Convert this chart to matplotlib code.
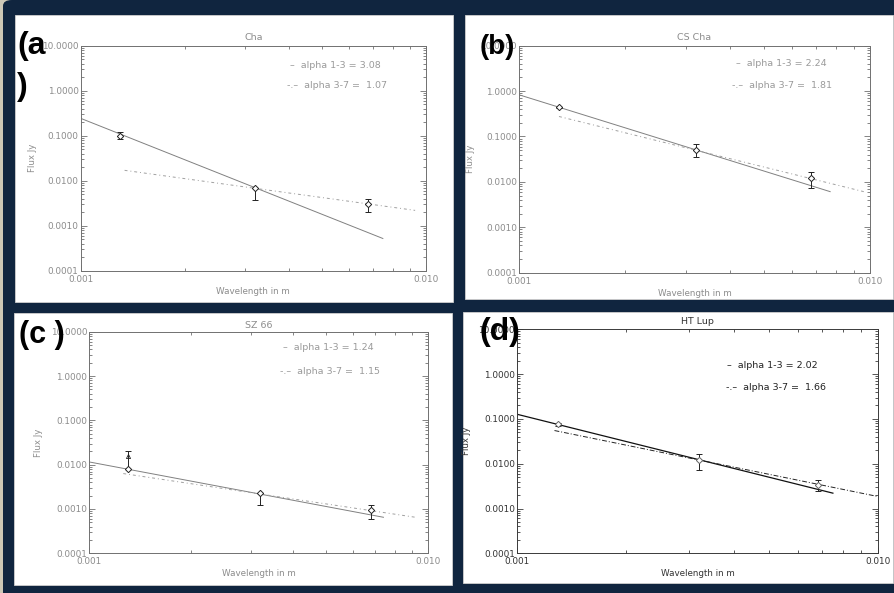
import matplotlib
matplotlib.use("Agg")
import matplotlib.pyplot as plt
from matplotlib.patches import Rectangle, FancyBboxPatch
from matplotlib.ticker import LogLocator, FixedLocator, FixedFormatter, NullFormatter

W, H = 895, 593

# ---------------- data ----------------
titles = ["Cha", "CS Cha", "SZ 66", "HT Lup"]
panel_tags = ["(a\n)", "(b)", "(c )", "(d)"]
alpha13 = ["3.08", "2.24", "1.24", "2.02"]
alpha37 = ["1.07", "1.81", "1.15", "1.66"]

wl = [0.0013, 0.0032, 0.0068]

a_flux = [0.100, 0.0068, 0.0031]
a_err_lo = [0.017, 0.0030, 0.0011]
a_err_hi = [0.020, 0.0, 0.0009]
a_fit13_x = [0.001, 0.0075]
a_fit13_y = [0.243, 0.00052]
a_fit37_x = [0.00134, 0.0093]
a_fit37_y = [0.0170, 0.00219]

b_flux = [0.436, 0.0508, 0.0120]
b_err_lo = [0.02, 0.015, 0.0045]
b_err_hi = [0.02, 0.018, 0.0043]
b_fit13_x = [0.001, 0.0077]
b_fit13_y = [0.83, 0.0061]
b_fit37_x = [0.0013, 0.0096]
b_fit37_y = [0.276, 0.0061]

c_flux = [0.0081, 0.0023, 0.00095]
c_err_lo = [0.0, 0.0011, 0.00035]
c_err_hi = [0.012, 0.0, 0.0003]
c_arrow_y = [0.0154]
c_fit13_x = [0.001, 0.0074]
c_fit13_y = [0.0115, 0.00065]
c_fit37_x = [0.00126, 0.0092]
c_fit37_y = [0.0063, 0.00065]

d_flux = [0.076, 0.0123, 0.0034]
d_err_lo = [0.006, 0.005, 0.001]
d_err_hi = [0.006, 0.0044, 0.001]
d_fit13_x = [0.001, 0.0075]
d_fit13_y = [0.127, 0.0022]
d_fit37_x = [0.00127, 0.010]
d_fit37_y = [0.055, 0.00185]

y_ticks = [0.0001, 0.001, 0.01, 0.1, 1.0, 10.0]
y_ticklabels = ["0.0001", "0.0010", "0.0100", "0.1000", "1.0000", "10.0000"]
x_ticks = [0.001, 0.010]
x_ticklabels = ["0.001", "0.010"]

# ---------------- layout ----------------
def rect(l, t, r, b):
    return [l / W, 1 - b / H, (r - l) / W, (b - t) / H]

def fpt(x, y):
    return (x / W, 1 - y / H)

fig = plt.figure(figsize=(W / 100, H / 100), dpi=100, facecolor="#cdc8b6")
navy = "#10253f"
fig.add_artist(FancyBboxPatch(fpt(3, 600), (W + 10) / W, (600) / H,
                              boxstyle="round,pad=0,rounding_size=0.01",
                              transform=fig.transFigure, facecolor=navy,
                              edgecolor="none", zorder=-5))

panel_boxes = [(15, 15, 453, 302), (465, 15, 893, 299),
               (14, 313, 452, 585), (463, 312, 893, 583)]
for (l, t, r, b) in panel_boxes:
    x0, y0, w, h = rect(l, t, r, b)
    fig.add_artist(Rectangle((x0, y0), w, h, transform=fig.transFigure,
                             facecolor="white", edgecolor="#d0d0d0", lw=0.6,
                             zorder=-4))

axes_boxes = [(80.7, 45.7, 426, 270.7), (519, 45.7, 870, 272.7),
              (89.3, 331.7, 427.7, 553.3), (517, 329.3, 878, 553.3)]

fluxes = [a_flux, b_flux, c_flux, d_flux]
errs_lo = [a_err_lo, b_err_lo, c_err_lo, d_err_lo]
errs_hi = [a_err_hi, b_err_hi, c_err_hi, d_err_hi]
fits13 = [(a_fit13_x, a_fit13_y), (b_fit13_x, b_fit13_y),
          (c_fit13_x, c_fit13_y), (d_fit13_x, d_fit13_y)]
fits37 = [(a_fit37_x, a_fit37_y), (b_fit37_x, b_fit37_y),
          (c_fit37_x, c_fit37_y), (d_fit37_x, d_fit37_y)]

legend_pos = [((290, 65), (287, 85)), ((736, 64), (732, 86)),
              ((283, 348), (280, 371)), ((727, 365), (726, 388))]
title_pos = [38, 38, 325, 322]
tag_pos = [(17, 31, 23, 1.5), (480, 34, 20, 1.35), (19, 320, 22, 1.35),
           (479, 317, 23, 1.35)]
ylabel_pads = [4, 4, 5.5, 5]

for i in range(4):
    faded = i < 3
    tc = "#8c8c8c" if faded else "#333333"
    sc = "#707070" if faded else "#3a3a3a"
    lc1 = "#808080" if faded else "#111111"
    lc2 = "#a0a0a0" if faded else "#222222"
    ax = fig.add_axes(rect(*axes_boxes[i]))
    ax.set_xscale("log")
    ax.set_yscale("log")
    ax.set_xlim(0.001, 0.010)
    ax.set_ylim(0.0001, 10.0)
    ax.patch.set_alpha(0)
    for s in ax.spines.values():
        s.set_color(sc)
        s.set_linewidth(0.7)

    # fits
    ax.plot(fits13[i][0], fits13[i][1], color=lc1, lw=0.7 if faded else 0.9,
            ls="-", zorder=2)
    ax.plot(fits37[i][0], fits37[i][1], color=lc2, lw=0.7,
            ls=(0, (5, 2, 1, 2)) if not faded else (0, (3, 3, 1, 3)), zorder=2)

    # data
    ax.errorbar(wl, fluxes[i], yerr=[errs_lo[i], errs_hi[i]], fmt="D",
                ms=3.2, mfc="white", mec="#222222" if i != 3 else "#666666",
                mew=0.7, ecolor="#222222", elinewidth=0.7, capsize=2.2,
                capthick=0.7, zorder=3)
    if i == 2:
        ax.plot([wl[0]], c_arrow_y, marker="^", ms=3, mfc="none",
                mec="#222222", mew=0.6, ls="none", zorder=3)

    ax.yaxis.set_major_locator(FixedLocator(y_ticks))
    ax.yaxis.set_major_formatter(FixedFormatter(y_ticklabels))
    ax.yaxis.set_minor_locator(LogLocator(base=10, subs=range(2, 10), numticks=20))
    ax.yaxis.set_minor_formatter(NullFormatter())
    ax.xaxis.set_major_locator(FixedLocator(x_ticks))
    ax.xaxis.set_major_formatter(FixedFormatter(x_ticklabels))
    ax.xaxis.set_minor_locator(LogLocator(base=10, subs=range(2, 10), numticks=20))
    ax.xaxis.set_minor_formatter(NullFormatter())
    ax.tick_params(which="both", direction="in", top=True, right=True,
                   colors=sc, labelcolor=tc, labelsize=6.4, width=0.6)
    ax.tick_params(which="major", length=4, pad=1.5)
    ax.tick_params(which="minor", length=2)
    ax.tick_params(axis="x", which="major", pad=3)
    ax.set_xlabel("Wavelength in m", fontsize=6.3, color=tc, labelpad=2)
    ax.set_ylabel("Flux Jy", fontsize=6.2, color=tc, labelpad=ylabel_pads[i])

    l, t, r, b = axes_boxes[i]
    fig.text((l + r) / 2 / W, 1 - title_pos[i] / H, titles[i], fontsize=6.8,
             color=tc, ha="center", va="center")

    (x1, y1), (x2, y2) = legend_pos[i]
    fig.text(x1 / W, 1 - y1 / H, "\u2013  alpha 1-3 = " + alpha13[i],
             fontsize=6.8, color="#9a9a9a" if faded else "#222222",
             ha="left", va="center")
    fig.text(x2 / W, 1 - y2 / H, "-.\u2013  alpha 3-7 =  " + alpha37[i],
             fontsize=6.8, color="#9a9a9a" if faded else "#222222",
             ha="left", va="center")

    tx, ty, tsz, tls = tag_pos[i]
    fig.text(tx / W, 1 - ty / H, panel_tags[i], fontsize=tsz,
             fontweight="bold", family=["Liberation Sans", "DejaVu Sans"],
             color="black", ha="left", va="top", linespacing=tls, zorder=10)

fig.savefig("out.png", dpi=100, facecolor=fig.get_facecolor())
